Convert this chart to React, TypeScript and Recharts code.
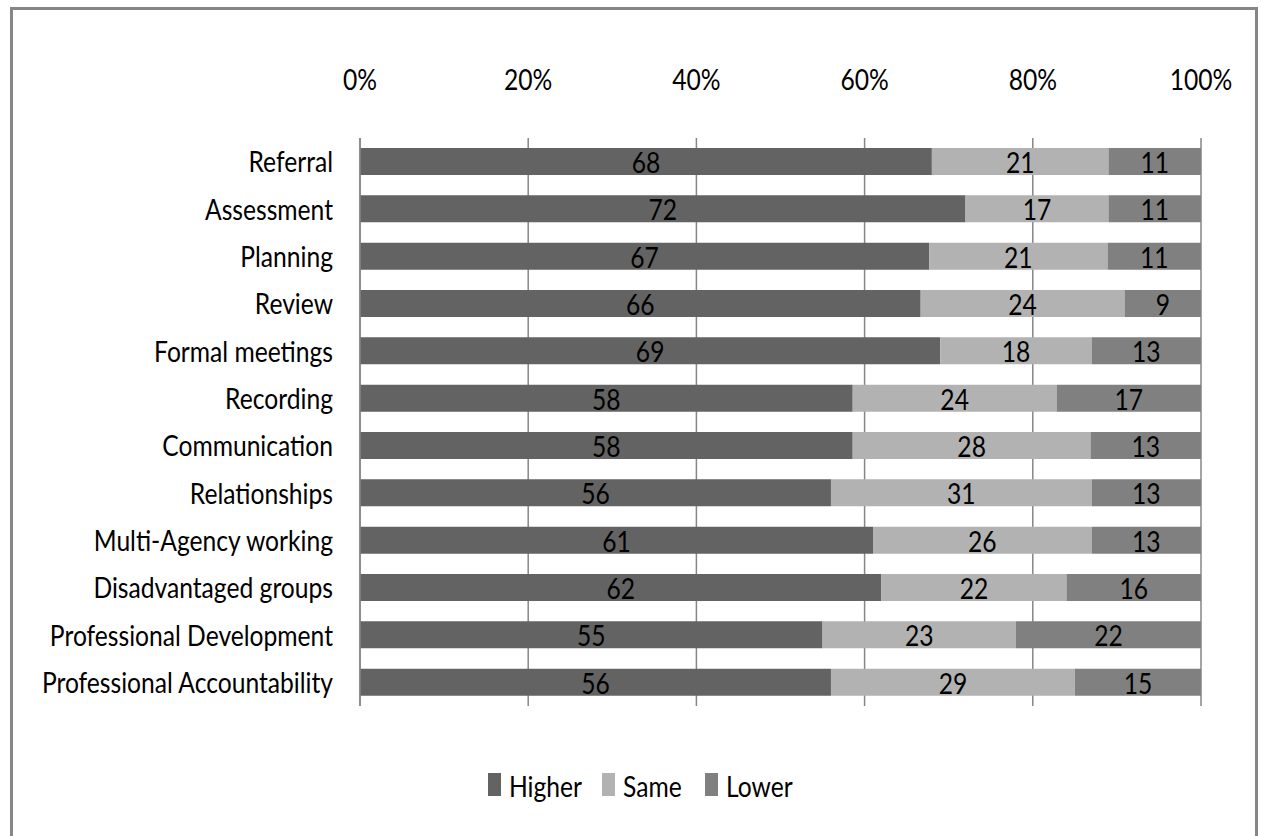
import React from 'react';
import { BarChart, Bar, XAxis, YAxis, CartesianGrid, LabelList } from 'recharts';

const categories = [
  'Referral',
  'Assessment',
  'Planning',
  'Review',
  'Formal meetings',
  'Recording',
  'Communication',
  'Relationships',
  'Multi-Agency working',
  'Disadvantaged groups',
  'Professional Development',
  'Professional Accountability',
];

const higher = [68, 72, 67, 66, 69, 58, 58, 56, 61, 62, 55, 56];
const same = [21, 17, 21, 24, 18, 24, 28, 31, 26, 22, 23, 29];
const lower = [11, 11, 11, 9, 13, 17, 13, 13, 13, 16, 22, 15];

const percentTicks = [0, 0.2, 0.4, 0.6, 0.8, 1];

const series = [
  { key: 'higher', name: 'Higher', color: '#636363', values: higher },
  { key: 'same', name: 'Same', color: '#b2b2b2', values: same },
  { key: 'lower', name: 'Lower', color: '#808080', values: lower },
];

const data = categories.map((name, i) => ({
  name,
  higher: higher[i],
  same: same[i],
  lower: lower[i],
}));

const FONT = 'Lato, "DejaVu Sans Condensed", sans-serif';
const FONT_SIZE = 28;
// narrow the glyphs horizontally, the way the condensed face reads
const SX = 0.88;

const NarrowText = ({ x, y, anchor, children }: any) => (
  <g transform={`translate(${x},${y}) scale(${SX},1)`}>
    <text
      x={0}
      y={0}
      textAnchor={anchor}
      dominantBaseline="central"
      fontFamily={FONT}
      fontSize={FONT_SIZE}
      fill="#000"
    >
      {children}
    </text>
  </g>
);

const PercentTick = (props: any) => {
  const { x, payload } = props;
  return (
    <NarrowText x={x} y={79} anchor="middle">
      {`${Math.round(payload.value * 100)}%`}
    </NarrowText>
  );
};

const CategoryTick = (props: any) => {
  const { y, payload } = props;
  return (
    <NarrowText x={333} y={y} anchor="end">
      {payload.value}
    </NarrowText>
  );
};

const segmentLabel = (values: number[]) => (props: any) => {
  const { x, y, width, height, index } = props;
  return (
    <NarrowText x={Number(x) + Number(width) / 2} y={Number(y) + Number(height) / 2 + 1} anchor="middle">
      {values[index]}
    </NarrowText>
  );
};

// legend drawn in svg so the narrowed text keeps its real width
const ChartLegend = () => {
  const textWidths = [70, 59, 64];
  let cursor = 488;
  const items = series.map((s, i) => {
    const x0 = cursor;
    cursor += 13 + 8 + textWidths[i] + 23;
    return (
      <g key={s.key}>
        <rect x={x0} y={773} width={13} height={23} fill={s.color} />
        <NarrowText x={x0 + 21} y={786} anchor="start">
          {s.name}
        </NarrowText>
      </g>
    );
  });
  return (
    <svg width={1261} height={836} style={{ position: 'absolute', left: 0, top: 0, pointerEvents: 'none' }}>
      {items}
    </svg>
  );
};

export default function App() {
  return (
    <div style={{ position: 'absolute', left: 0, top: 0, width: 1261, height: 836, background: '#fff' }}>
      <div
        style={{
          position: 'absolute',
          left: 10,
          top: 7,
          width: 1248,
          height: 840,
          border: '3px solid #868686',
          boxSizing: 'border-box',
        }}
      />
      <BarChart
        width={1261}
        height={836}
        data={data}
        layout="vertical"
        stackOffset="expand"
        barSize={27}
        margin={{ top: 78, right: 60, bottom: 130, left: 30 }}
        style={{ position: 'absolute', left: 0, top: 0 }}
      >
        <CartesianGrid horizontal={false} vertical stroke="#868686" strokeWidth={1.5} />
        <XAxis
          type="number"
          orientation="top"
          domain={[0, 1]}
          ticks={percentTicks}
          axisLine={false}
          tickLine={false}
          height={60}
          tick={<PercentTick />}
        />
        <YAxis
          type="category"
          dataKey="name"
          width={330}
          axisLine={{ stroke: '#868686', strokeWidth: 1.5 }}
          tickLine={false}
          interval={0}
          tick={<CategoryTick />}
        />
        {series.map((s) => (
          <Bar key={s.key} dataKey={s.key} name={s.name} stackId="a" fill={s.color} isAnimationActive={false}>
            <LabelList dataKey={s.key} content={segmentLabel(s.values)} />
          </Bar>
        ))}
      </BarChart>
      <ChartLegend />
    </div>
  );
}
